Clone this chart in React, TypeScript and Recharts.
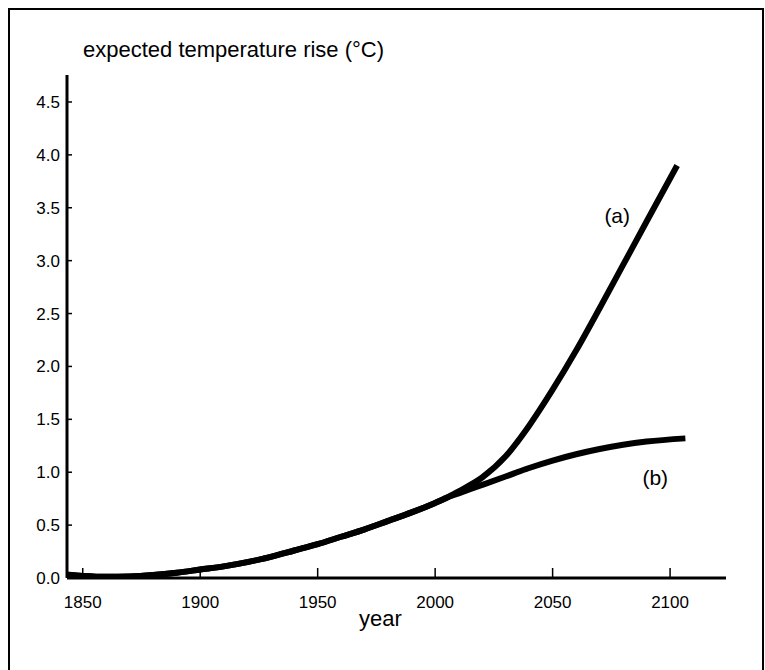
import { LineChart, Line, XAxis, YAxis, ReferenceDot } from 'recharts';

// Shared history up to about 2005, then the two scenarios split
const commonYears = [1843.3, 1850, 1860, 1870, 1880, 1890, 1900, 1910, 1920, 1930, 1940, 1950, 1960, 1970, 1980, 1990, 2000, 2005];
const commonRise = [0.03, 0.02, 0.012, 0.015, 0.028, 0.05, 0.08, 0.11, 0.15, 0.2, 0.26, 0.32, 0.39, 0.46, 0.54, 0.62, 0.71, 0.76];

const yearsA = [2010, 2020, 2030, 2040, 2050, 2060, 2070, 2080, 2090, 2103];
const riseA = [0.82, 0.95, 1.15, 1.44, 1.78, 2.15, 2.55, 2.96, 3.37, 3.9];

const yearsB = [2010, 2020, 2030, 2040, 2050, 2060, 2070, 2080, 2090, 2106.5];
const riseB = [0.8, 0.88, 0.96, 1.04, 1.11, 1.17, 1.22, 1.26, 1.29, 1.32];

const xTicks = [1850, 1900, 1950, 2000, 2050, 2100];
const yTicks = [0, 0.5, 1, 1.5, 2, 2.5, 3, 3.5, 4, 4.5];

const curveLabels = [
  { name: '(a)', year: 2077.5, value: 3.43 },
  { name: '(b)', year: 2093.7, value: 0.95 },
];

const toRows = (years: number[], vals: number[]) => years.map((year, i) => ({ year, value: vals[i] }));

const seriesA = [...toRows(commonYears, commonRise), ...toRows(yearsA, riseA)];
const seriesB = [...toRows(commonYears, commonRise), ...toRows(yearsB, riseB)];

const FONT = '"Liberation Sans", Arial, Helvetica, sans-serif';

export default function App() {
  return (
    <div
      style={{
        position: 'fixed',
        left: 8,
        top: 8,
        width: 752,
        height: 680,
        border: '2px solid #000',
        borderBottom: 'none',
        background: '#fff',
        fontFamily: FONT,
      }}
    >
      <div style={{ position: 'absolute', left: 73, top: 29, fontSize: 22, lineHeight: '22px', whiteSpace: 'nowrap' }}>
        expected temperature rise (°C)
      </div>
      <div style={{ position: 'absolute', left: 349, top: 598, fontSize: 22, lineHeight: '22px' }}>year</div>
      <LineChart width={752} height={640} margin={{ top: 65, right: 36, left: 7, bottom: 32 }}>
        <XAxis
          type="number"
          dataKey="year"
          domain={[1843.3, 2123.8]}
          ticks={xTicks}
          allowDataOverflow
          height={40}
          tickSize={-10}
          tickMargin={28}
          axisLine={{ stroke: '#000', strokeWidth: 3 }}
          tickLine={{ stroke: '#000', strokeWidth: 1.5 }}
          tick={{ fill: '#000', fontSize: 17, fontFamily: FONT }}
        />
        <YAxis
          type="number"
          domain={[0, 4.755]}
          ticks={yTicks}
          allowDataOverflow
          width={50}
          tickSize={-5}
          tickMargin={12}
          tickFormatter={(v: number) => v.toFixed(1)}
          axisLine={{ stroke: '#000', strokeWidth: 3 }}
          tickLine={{ stroke: '#000', strokeWidth: 1.5 }}
          tick={{ fill: '#000', fontSize: 17, fontFamily: FONT }}
        />
        <Line
          data={seriesA}
          dataKey="value"
          type="monotone"
          stroke="#000"
          strokeWidth={6}
          dot={false}
          isAnimationActive={false}
        />
        <Line
          data={seriesB}
          dataKey="value"
          type="monotone"
          stroke="#000"
          strokeWidth={6}
          dot={false}
          isAnimationActive={false}
        />
        {curveLabels.map((l) => (
          <ReferenceDot
            key={l.name}
            x={l.year}
            y={l.value}
            r={0}
            fill="none"
            stroke="none"
            label={{ value: l.name, position: 'center', fill: '#000', fontSize: 21, fontFamily: FONT }}
          />
        ))}
      </LineChart>
    </div>
  );
}
